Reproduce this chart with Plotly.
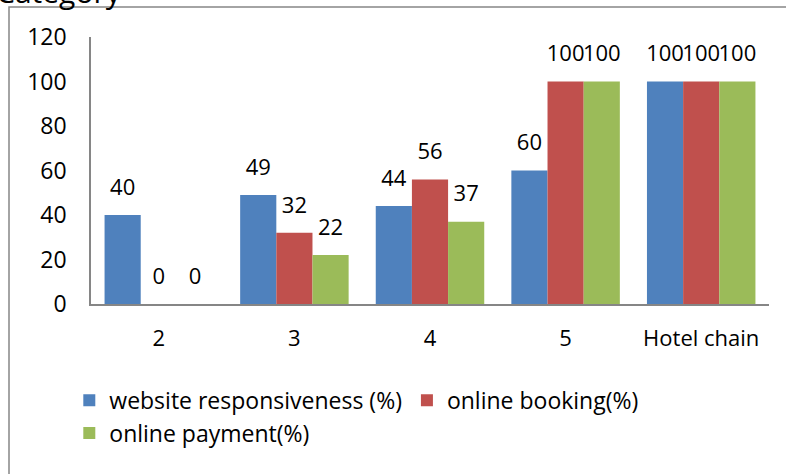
import plotly.graph_objects as go

categories = ["2", "3", "4", "5", "Hotel chain"]
website_responsiveness = [40, 49, 44, 60, 100]
online_booking = [0, 32, 56, 100, 100]
online_payment = [0, 22, 37, 100, 100]

series = [
    ("website responsiveness (%)", website_responsiveness, "#4F81BD"),
    ("online booking(%)", online_booking, "#C0504D"),
    ("online payment(%)", online_payment, "#9BBB59"),
]

FONT = "Open Sans"
fig = go.Figure()
for i, (name, vals, color) in enumerate(series):
    fig.add_trace(go.Bar(
        x=categories, y=vals, name=name,
        marker=dict(color=color, line=dict(width=0)),
        offsetgroup=str(i),
    ))
for i, (name, vals, color) in enumerate(series):
    fig.add_trace(go.Scatter(
        x=categories, y=vals, name=name, showlegend=False,
        mode="markers+text", offsetgroup=str(i),
        marker=dict(size=22, opacity=0),
        text=[str(v) for v in vals], textposition="top center",
        textfont=dict(family=FONT, size=22, color="black"),
        cliponaxis=False, hoverinfo="skip",
    ))

fig.update_layout(
    width=786, height=474,
    margin=dict(l=91, r=17, t=37, b=170),
    paper_bgcolor="white", plot_bgcolor="white",
    barmode="group", bargap=0.2, bargroupgap=0,
    scattermode="group", scattergap=0.2,
    font=dict(family=FONT, size=22, color="black"),
    showlegend=True,
    legend=dict(orientation="h", x=-0.032, xanchor="left", y=-0.28, yanchor="top",
                font=dict(family=FONT, size=23, color="black"),
                traceorder="normal"),
    xaxis=dict(showline=True, linecolor="#868686", linewidth=1.5, ticks="",
               showgrid=False, tickfont=dict(size=22), ticklabelstandoff=14),
    yaxis=dict(range=[0, 120], dtick=20, showline=True, linecolor="#868686",
               linewidth=1.5, ticks="", showgrid=False, zeroline=False,
               tickfont=dict(size=23), ticklabelstandoff=18),
    shapes=[dict(type="rect", xref="paper", yref="paper",
                 x0=-82/678, x1=30/678 + 1, y0=-200/267, y1=1 + 30/267,
                 line=dict(color="#868686", width=1.5), fillcolor="rgba(0,0,0,0)",
                 layer="below")],
    annotations=[dict(text="Category", xref="paper", yref="paper",
                      x=-97/678, y=1 + 23/267, xanchor="left", yanchor="bottom",
                      showarrow=False, font=dict(family=FONT, size=30, color="black"))],
)

fig.write_html("out.html")
